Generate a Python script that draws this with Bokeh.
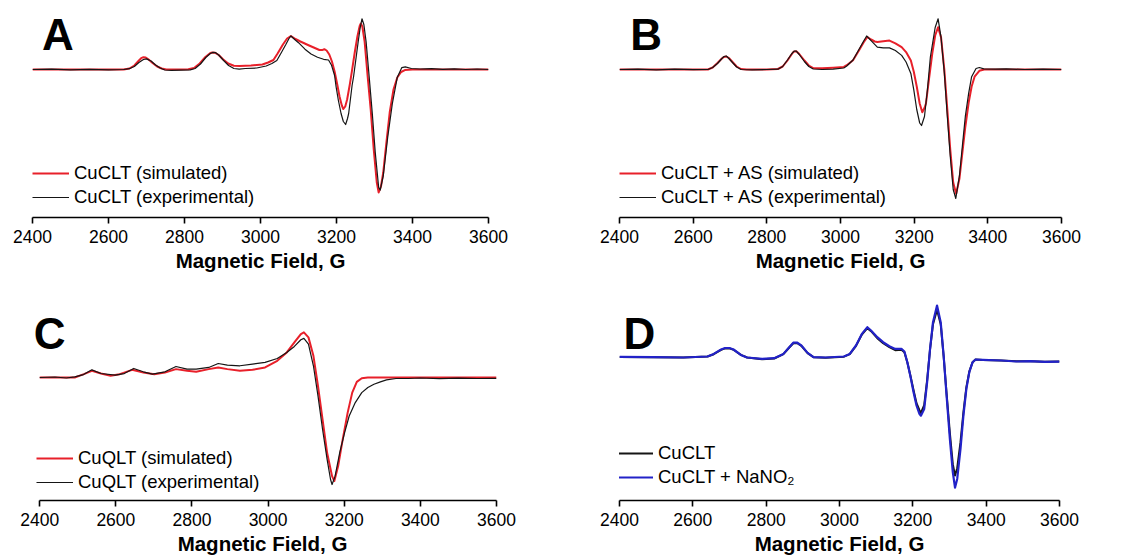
from bokeh.plotting import figure
from bokeh.models import Range1d, FixedTicker, Legend, LegendItem, Label, ColumnDataSource
from bokeh.layouts import column, row
from bokeh.embed import file_html
from bokeh.resources import INLINE

# ---------------- data (field in G, intensity in arbitrary units) --------------
TICKS = [2400, 2600, 2800, 3000, 3200, 3400, 3600]
X_LABEL = "Magnetic Field, G"

A_SIM = [(2400, 0), (2500, 0), (2600, 0), (2640, 0), (2655, 1), (2668, 4), (2680, 9), (2686, 11.3),
         (2692, 12.3), (2698, 11.9), (2704, 10.5), (2716, 6.5), (2728, 3), (2740, 1), (2752, 0),
         (2780, 0), (2810, 0.2), (2825, 1.5), (2840, 6), (2855, 12.5), (2868, 16.5), (2873, 17),
         (2880, 16.8), (2890, 14.5), (2902, 10), (2915, 6), (2930, 3.8), (2945, 3.6), (2975, 4),
         (3005, 5), (3020, 7), (3034, 9.5), (3045, 16), (3059, 25), (3070, 31), (3080, 33.5),
         (3092, 30.5), (3105, 28), (3125, 24.5), (3140, 22), (3155, 19.5), (3162, 19.4),
         (3168, 20.3), (3174, 19), (3181, 15), (3188, 8), (3195, -2), (3202, -15), (3208, -27),
         (3214, -36), (3218, -39.5), (3223, -37), (3228, -30), (3235, -15), (3241, -0.6),
         (3248, 17), (3255, 33), (3261, 43.5), (3264, 46), (3268, 43), (3274, 28), (3282, -7),
         (3290, -40), (3298, -80), (3306, -113), (3311, -123), (3317, -117), (3323, -103),
         (3331, -74), (3340, -43), (3350, -20), (3360, -8), (3370, -2.5), (3380, -0.6), (3400, 0),
         (3500, 0), (3600, 0)]
A_EXP = [(2400, 0), (2450, 0.3), (2500, -0.3), (2550, 0.2), (2600, -0.3), (2640, 0), (2655, 0.8),
         (2668, 3), (2680, 7), (2692, 10), (2700, 10.6), (2712, 8.5), (2724, 4.5), (2736, 1.5),
         (2748, -0.5), (2765, -0.8), (2790, -0.6), (2815, -0.3), (2828, 1), (2842, 5.5), (2856, 12),
         (2868, 16), (2875, 17.1), (2882, 16.8), (2890, 14.5), (2903, 9), (2916, 4), (2930, 1),
         (2944, 0.3), (2960, 1), (2990, 1.5), (3015, 3.5), (3030, 6), (3043, 9), (3055, 17),
         (3067, 25.2), (3075, 31), (3080, 33.5), (3090, 30), (3100, 26.8), (3117, 20.3),
         (3133, 15.5), (3150, 12.3), (3166, 10.2), (3179, 9.5), (3187, 4.2), (3195, -6),
         (3199, -17.5), (3205, -31), (3212, -44), (3218, -52), (3224, -55), (3229, -49),
         (3232, -44), (3241, -16), (3245, -7), (3253, 16), (3257, 27.5), (3262, 41), (3267, 50.7),
         (3272, 45), (3278, 27.5), (3286, -7.3), (3294, -43), (3302, -83), (3311, -118),
         (3315, -120.5), (3323, -106.5), (3335, -67), (3347, -34), (3360, -7.7), (3372, 1.9),
         (3381, 2.6), (3397, 1), (3420, 0.5), (3450, 0.8), (3480, 0.2), (3510, 0.6), (3540, 0),
         (3570, 0.5), (3600, 0)]

B_SIM = [(2400, 0), (2500, 0), (2600, 0), (2640, 0), (2653, 2), (2666, 6.5), (2678, 11), (2683, 12.5),
         (2690, 13), (2697, 11.5), (2708, 7), (2718, 3), (2730, 0.5), (2745, 0), (2800, 0),
         (2830, 0.5), (2843, 3), (2856, 9), (2867, 15), (2873, 17.8), (2880, 18.2), (2888, 15.5),
         (2902, 9), (2914, 4), (2926, 1.5), (2950, 1.2), (2980, 1.8), (3009, 2.6), (3017, 4.3),
         (3034, 9.2), (3050, 19), (3063, 27.2), (3073, 32.5), (3083, 30), (3093, 28), (3100, 27.5),
         (3116, 28.2), (3133, 28.9), (3149, 26.2), (3166, 22.3), (3178, 17.4), (3191, 9),
         (3199, -2.3), (3207, -17), (3215, -34), (3222, -42.7), (3228, -38.5), (3232, -34),
         (3240, -10.5), (3249, 15.7), (3257, 34), (3265, 42.3), (3273, 32.1), (3282, -0.7),
         (3290, -40), (3298, -80), (3306, -113), (3314, -124.3), (3323, -109), (3331, -83),
         (3339, -57), (3348, -33), (3356, -17), (3364, -7.2), (3377, -1.3), (3390, 0), (3500, 0),
         (3600, 0)]
B_EXP = [(2400, 0), (2450, 0.3), (2500, -0.3), (2550, 0.3), (2600, -0.2), (2640, 0), (2653, 2),
         (2666, 6), (2678, 11), (2684, 13), (2690, 13.5), (2697, 11), (2708, 6.5), (2718, 2.5),
         (2730, 0), (2760, -0.3), (2800, 0), (2830, 0.3), (2843, 3), (2856, 9.5), (2867, 15.5),
         (2874, 18.3), (2880, 18.4), (2888, 15), (2902, 8), (2914, 3), (2926, 0.5), (2950, 0),
         (2980, 0.3), (3009, 1.5), (3017, 3.5), (3034, 9.5), (3050, 20), (3063, 28.5),
         (3071, 33.5), (3083, 28.9), (3100, 22.3), (3116, 21.6), (3133, 21.6), (3149, 19),
         (3166, 14.1), (3178, 7.5), (3191, -3.9), (3199, -20.3), (3207, -40), (3215, -53.5),
         (3220, -56), (3228, -47), (3236, -20.3), (3244, 12.5), (3257, 42), (3265, 50.7),
         (3273, 32.1), (3282, -3.9), (3290, -47), (3298, -87), (3306, -120), (3313, -129),
         (3323, -106), (3331, -76), (3339, -46.6), (3348, -23.6), (3356, -7.2), (3368, 1),
         (3377, 2), (3389, 0.7), (3420, 0.3), (3450, 0.6), (3500, 0), (3550, 0.4), (3600, 0)]

C_SIM = [(2400, 0), (2492, 0), (2516, 3.4), (2537, 6.8), (2561, 4.1), (2586, 1.7), (2610, 3.4),
         (2643, 7.8), (2672, 5.1), (2701, 3.4), (2729, 5.1), (2758, 8.5), (2787, 6.8), (2811, 5.8),
         (2844, 8.5), (2869, 10.2), (2893, 8.5), (2926, 6.8), (2959, 7.8), (2992, 10.2),
         (3024, 16.9), (3049, 25.4), (3069, 35.6), (3086, 44.1), (3094, 45.8), (3106, 40.7),
         (3119, 22), (3131, -8.5), (3143, -42.4), (3155, -76.3), (3168, -100), (3174, -105),
         (3184, -89.8), (3196, -62.7), (3209, -35.6), (3221, -15.3), (3233, -4.4), (3246, -0.7),
         (3262, 0), (3400, 0), (3600, 0)]
C_EXP = [(2400, 0), (2440, 0.5), (2470, -0.5), (2492, 0.7), (2515, 3), (2537, 7.8), (2561, 4.1),
         (2598, 2.4), (2622, 4), (2647, 9.2), (2672, 5.8), (2696, 3.4), (2729, 5.8), (2758, 11.2),
         (2787, 8.5), (2811, 8.5), (2844, 10.2), (2869, 14.2), (2893, 12.5), (2926, 11.9),
         (2959, 13.6), (2992, 15.3), (3024, 19.3), (3049, 25.4), (3069, 31.5), (3086, 38.3),
         (3094, 39.7), (3106, 33.9), (3119, 11.9), (3131, -18.6), (3143, -52.5), (3155, -83),
         (3164, -103.4), (3168, -108.5), (3176, -100), (3188, -76.3), (3201, -55.9), (3213, -39),
         (3229, -25.4), (3246, -15.3), (3262, -10.2), (3278, -6.8), (3295, -4.4), (3311, -2.4),
         (3336, -1), (3369, -1), (3400, -0.5), (3450, -1.2), (3500, -0.6), (3550, -1), (3600, -0.8)]

D_CTRL = [(2400, 0.3), (2492, 0), (2574, -0.3), (2640, 0.7), (2657, 3), (2677, 7.3), (2688, 8.8),
          (2700, 8.8), (2711, 7.5), (2731, 2.3), (2748, -0.3), (2789, -2), (2822, -1.3), (2847, 3),
          (2863, 9.7), (2874, 14), (2884, 14.2), (2896, 11.3), (2913, 4), (2929, 0), (2962, -0.5),
          (3012, 0.5), (3028, 3), (3045, 11.3), (3061, 22.7), (3076, 29), (3086, 26), (3103, 19),
          (3119, 14), (3136, 10), (3152, 7), (3169, 7.5), (3177, 5), (3185, -5), (3193, -17.7),
          (3202, -33), (3210, -46), (3218, -53), (3222, -55.7), (3231, -48), (3239, -23), (3247, 8),
          (3255, 33), (3266, 47.5), (3276, 33), (3284, 1), (3292, -36), (3301, -76), (3309, -107),
          (3315, -118.3), (3321, -111), (3330, -85), (3338, -55), (3346, -30), (3354, -14.5),
          (3363, -5), (3371, -2.3), (3391, -2.7), (3441, -3.3), (3482, -4), (3520, -4),
          (3560, -4.5), (3600, -4.3)]
D_NITRITE = [(2400, 0.3), (2492, 0), (2574, -0.3), (2640, 0.7), (2657, 3.3), (2677, 7.7),
             (2688, 9.2), (2700, 9.2), (2711, 7.7), (2731, 2.3), (2748, -0.3), (2789, -1.7),
             (2822, -1), (2847, 3.3), (2863, 10), (2874, 14.5), (2884, 14.7), (2896, 11.7),
             (2913, 4.3), (2929, 0), (2962, -0.3), (3012, 0.7), (3028, 3.3), (3045, 11.7),
             (3061, 23.3), (3076, 30), (3086, 26.7), (3103, 20), (3119, 15), (3136, 11),
             (3152, 8.3), (3169, 8.3), (3177, 5.7), (3185, -5), (3193, -18.3), (3202, -35),
             (3210, -48.3), (3218, -56.7), (3222, -58.5), (3231, -51.7), (3239, -25), (3247, 8.3),
             (3255, 35), (3266, 51.7), (3276, 35), (3284, 1.7), (3292, -38.3), (3301, -81.7),
             (3309, -115), (3315, -130.5), (3321, -121.7), (3330, -91.7), (3338, -58.3),
             (3346, -31.7), (3354, -15), (3363, -5), (3371, -2.3), (3391, -2.7), (3441, -3.3),
             (3482, -4.3), (3520, -4), (3560, -4.7), (3600, -4.5)]

LABELS_A = ["CuCLT (simulated)", "CuCLT (experimental)"]
LABELS_B = ["CuCLT + AS (simulated)", "CuCLT + AS (experimental)"]
LABELS_C = ["CuQLT (simulated)", "CuQLT (experimental)"]
LABELS_D = ["CuCLT", "CuCLT + NaNO\u2082"]

RED = "#E8202A"
BLACK = "#151515"
BLUE = "#2222C8"
FONT = "Liberation Sans"


def src(pairs):
    return ColumnDataSource(dict(x=[p[0] for p in pairs], y=[p[1] for p in pairs]))


def panel(w, h, bl, br, bt, bb, xstart, yr, letter, lx, ly, series, labels, leg_loc):
    p = figure(width=w, height=h, output_backend="svg", toolbar_location=None,
               x_range=Range1d(xstart, TICKS[-1]), y_range=Range1d(*yr),
               y_axis_location=None, min_border_left=bl, min_border_right=br,
               min_border_top=bt, min_border_bottom=bb)
    p.outline_line_color = None
    p.xgrid.visible = False
    p.ygrid.visible = False
    p.background_fill_color = "white"
    p.border_fill_color = "white"
    ax = p.xaxis[0]
    ax.bounds = (TICKS[0], TICKS[-1])
    ax.ticker = FixedTicker(ticks=TICKS)
    ax.axis_label = X_LABEL
    ax.axis_line_color = "black"
    ax.axis_line_width = 1.6
    ax.major_tick_line_color = "black"
    ax.major_tick_line_width = 1.6
    ax.major_tick_in = 0
    ax.major_tick_out = 6
    ax.minor_tick_line_color = None
    ax.major_label_text_font = FONT
    ax.major_label_text_font_size = "17.5px"
    ax.major_label_text_color = "black"
    ax.major_label_standoff = 6
    ax.axis_label_text_font = FONT
    ax.axis_label_text_font_size = "20.5px"
    ax.axis_label_text_font_style = "bold"
    ax.axis_label_text_color = "black"
    ax.axis_label_standoff = 3

    rends = []
    for pairs, color, lw in series:
        rends.append(p.line("x", "y", source=src(pairs), line_color=color, line_width=lw,
                            line_join="round"))

    leg = Legend(items=[LegendItem(label=lab, renderers=[r]) for lab, r in zip(labels, rends)],
                 location=leg_loc, glyph_width=37, glyph_height=24, label_height=24,
                 label_standoff=5, spacing=0, padding=0, margin=0,
                 border_line_color=None, background_fill_alpha=0,
                 label_text_font=FONT, label_text_font_size="18.5px", label_text_color="black")
    p.add_layout(leg)

    p.add_layout(Label(x=lx, y=ly, text=letter, text_font=FONT, text_font_size="44px",
                       text_font_style="bold", text_color="black", text_align="left",
                       text_baseline="alphabetic"))
    return p


pA = panel(560, 280, 32, 72, 5, 63, 2400, (-148, 64), "A", 2425, 35,
           [(A_SIM, "#E8202A", 2), (A_EXP, BLACK, 1.2)], LABELS_A, (0, 8))
pB = panel(579, 280, 59, 78, 5, 63, 2400, (-148, 64), "B", 2429, 35,
           [(B_SIM, RED, 2), (B_EXP, BLACK, 1.2)], LABELS_B, (0, 8))
pC = panel(560, 280, 28, 64, 5, 57, 2370.5, (-124.7, 93.3), "C", 2384, 44.3,
           [(C_SIM, RED, 2), (C_EXP, BLACK, 1.2)], LABELS_C, (8, 6))
pD = panel(579, 280, 59, 80, 5, 60, 2400, (-143.3, 71.7), "D", 2411, 23.4,
           [(D_CTRL, BLACK, 2), (D_NITRITE, BLUE, 2.2)], LABELS_D, (-3, 11))

layout = column(row(pA, pB), row(pC, pD))
open("out.html", "w").write(file_html(layout, INLINE))
